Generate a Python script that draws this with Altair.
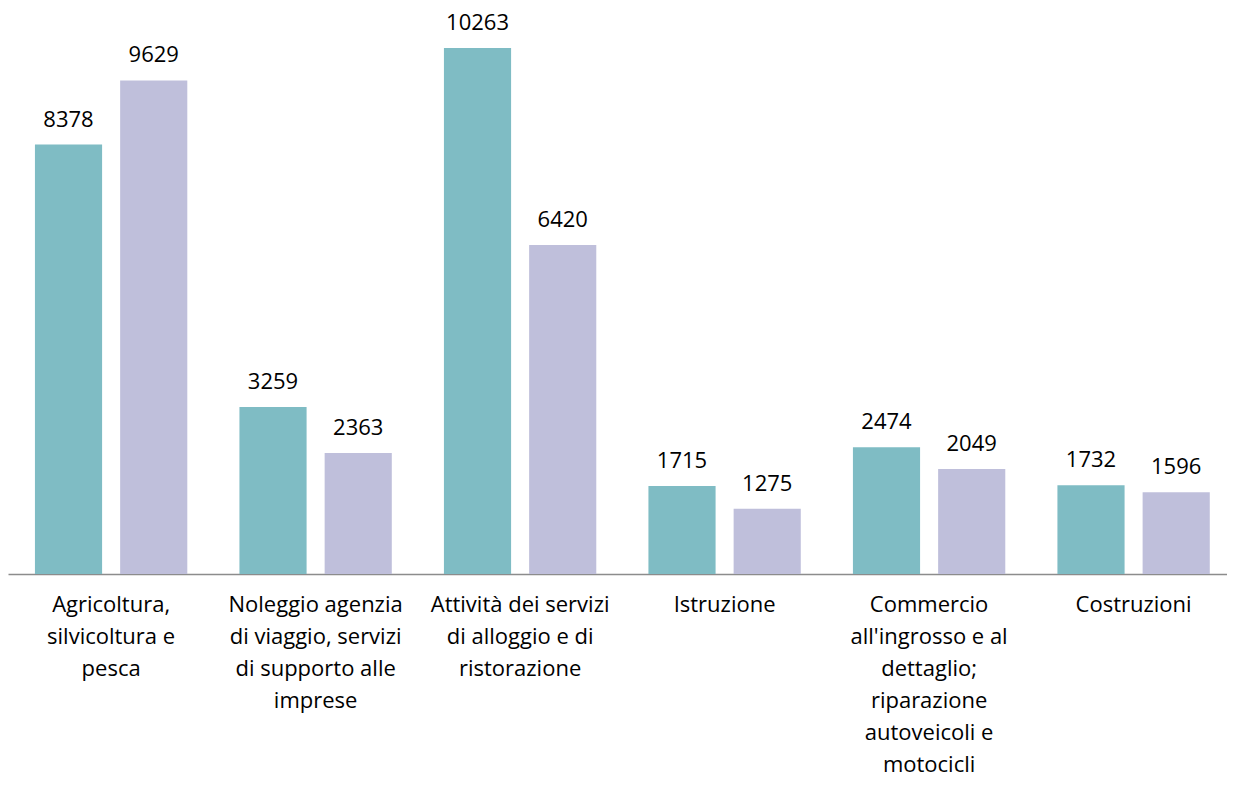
import altair as alt
import pandas as pd

categories = [
    "Agricoltura,|silvicoltura e|pesca",
    "Noleggio agenzia|di viaggio, servizi|di supporto alle|imprese",
    "Attività dei servizi|di alloggio e di|ristorazione",
    "Istruzione",
    "Commercio|all'ingrosso e al|dettaglio;|riparazione|autoveicoli e|motocicli",
    "Costruzioni",
]
series_names = ["Serie 1", "Serie 2"]
values_1 = [8378, 3259, 10263, 1715, 2474, 1732]
values_2 = [9629, 2363, 6420, 1275, 2049, 1596]
colors = ["#7fbcc4", "#bfbfdb"]

rows = []
for c, a, b in zip(categories, values_1, values_2):
    rows.append({"cat": c, "serie": series_names[0], "val": a})
    rows.append({"cat": c, "serie": series_names[1], "val": b})
df = pd.DataFrame(rows)

FONT = "Open Sans"

x = alt.X(
    "cat:N",
    sort=categories,
    scale=alt.Scale(paddingInner=0.255, paddingOuter=0.108, align=0.61),
    axis=alt.Axis(
        title=None,
        labelExpr="split(datum.label, '|')",
        labelAngle=0,
        labelFont=FONT,
        labelFontSize=22,
        labelColor="#000000",
        labelLineHeight=32,
        labelPadding=20,
        labelLimit=300,
        ticks=False,
        domainColor="#8c8c8c",
        domainWidth=1.5,
        grid=False,
    ),
)
xo = alt.XOffset("serie:N", sort=series_names, scale=alt.Scale(paddingInner=0.2118))
y = alt.Y(
    "val:Q",
    scale=alt.Scale(domain=[0, 10848], nice=False, zero=True),
    axis=None,
)

base = alt.Chart(df).encode(x=x, xOffset=xo, y=y)

bars = base.mark_bar().encode(
    color=alt.Color("serie:N", sort=series_names,
                    scale=alt.Scale(domain=series_names, range=colors), legend=None)
)
labels = base.mark_text(
    baseline="middle", dy=-25, font=FONT, fontSize=22, color="#000000"
).encode(text=alt.Text("val:Q", format="d"))

chart = (
    alt.layer(bars, labels)
    .properties(
        width=1219,
        height=556,
        autosize=alt.AutoSizeParams(type="none"),
        padding={"left": 0, "top": 10, "right": 0, "bottom": 203},
    )
    .configure_view(stroke=None)
)

chart.save("out.html", embed_options={"renderer": "svg", "actions": False})
